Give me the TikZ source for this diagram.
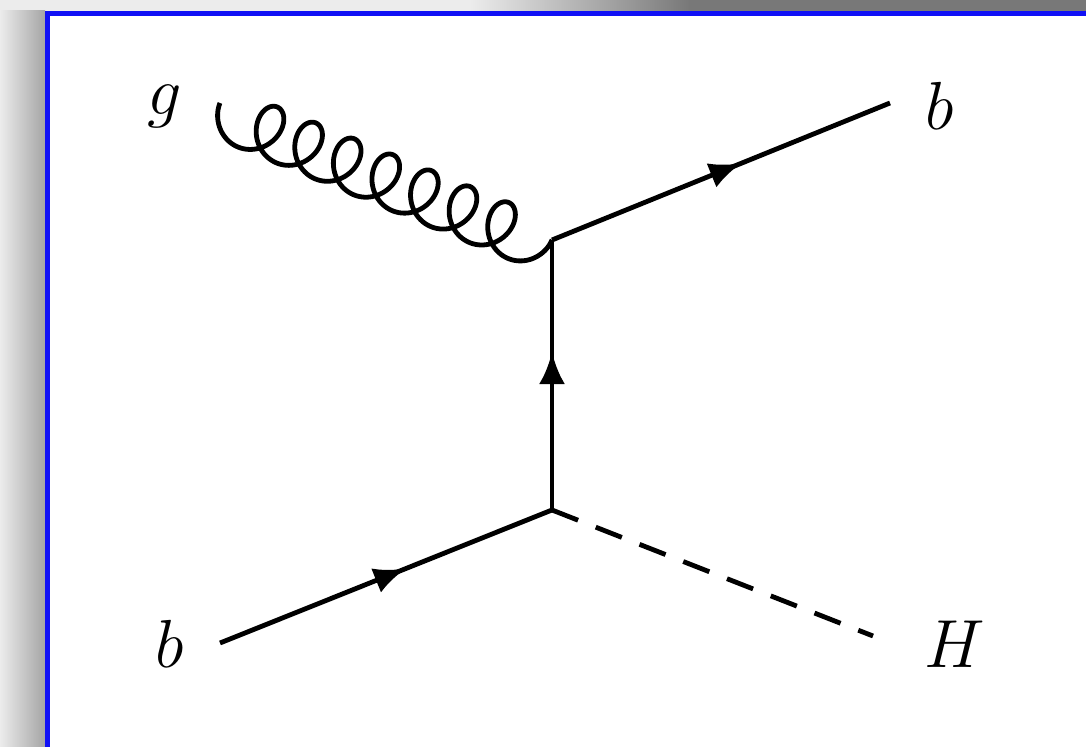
\documentclass[tikz,border=0pt]{standalone}
\usetikzlibrary{decorations.markings,arrows.meta}
\definecolor{framblue}{RGB}{16,16,245}
\definecolor{bglight}{RGB}{236,236,236}
\definecolor{bgdark}{RGB}{120,120,120}
\definecolor{bgside}{RGB}{165,165,165}
\tikzset{
  lbl/.style={inner sep=0pt, font=\huge, scale=1.64},
  prop/.style={line width=2.4pt, line join=round},
  fermion/.style={prop, postaction={decorate}, decoration={markings,
     mark=at position #1 with {\arrow{Latex[length=16pt,width=13pt]}}}},
  fermion/.default=0.56,
  scalar/.style={prop, dash pattern=on 14pt off 9.5pt},
  gluon/.style={prop},
}
\begin{document}
\begin{tikzpicture}[x=0.5pt,y=-0.5pt]
\useasboundingbox (0,0) rectangle (1086,747);
% background outside the frame
\fill[bglight] (0,0) rectangle (1086,747);
\shade[left color=bglight, right color=bgdark] (470,0) rectangle (690,11);
\fill[bgdark] (689,0) rectangle (1086,11);
\shade[left color=bglight, right color=bgside] (0,11) rectangle (45,747);
% frame
\fill[framblue] (45,11) rectangle (1086,747);
\fill[white] (50,16) rectangle (1086,747);
% points
\coordinate (gin) at (220,103);
\coordinate (bin) at (220,643);
\coordinate (bout) at (890,103);
\coordinate (hout) at (873,636);
\coordinate (v1) at (552,240);
\coordinate (v2) at (552,510);
% labels
\node[lbl] (lg) at (165,106) {$g$};
\node[lbl] (lbo) at (940,106) {$b$};
\node[lbl] (lbi) at (170,644) {$b$};
\node[lbl] (lh) at (955,644) {$H$};
% gluon as a prolate trochoid between gin and v1
\pgfmathsetmacro\ga{6.645}
\pgfmathsetmacro\gR{26}
\pgfmathsetmacro\gRp{22}
\pgfmathsetmacro\gtz{acos(\ga/\gRp)*pi/180}
\pgfmathsetmacro\gte{16*pi-\gtz}
\pgfmathsetmacro\gsz{sin(\gtz r)}
\pgfmathsetmacro\gex{0.9243}
\pgfmathsetmacro\gey{0.3814}
\draw[gluon] (gin) -- plot[domain=\gtz:\gte, samples=700, variable=\t]
  ({220 + (\ga*(\t-\gtz) - \gRp*(sin(\t r)-\gsz))*\gex + (\gR*cos(\t r) - \gR*\ga/\gRp)*\gey},
   {103 + (\ga*(\t-\gtz) - \gRp*(sin(\t r)-\gsz))*\gey - (\gR*cos(\t r) - \gR*\ga/\gRp)*\gex})
  -- (v1);
% fermions and scalar
\draw[fermion] (v1) -- (bout);
\draw[fermion=0.585] (v2) -- (v1);
\draw[fermion] (bin) -- (v2);
\draw[scalar] (v2) -- (hout);
\end{tikzpicture}
\end{document}
